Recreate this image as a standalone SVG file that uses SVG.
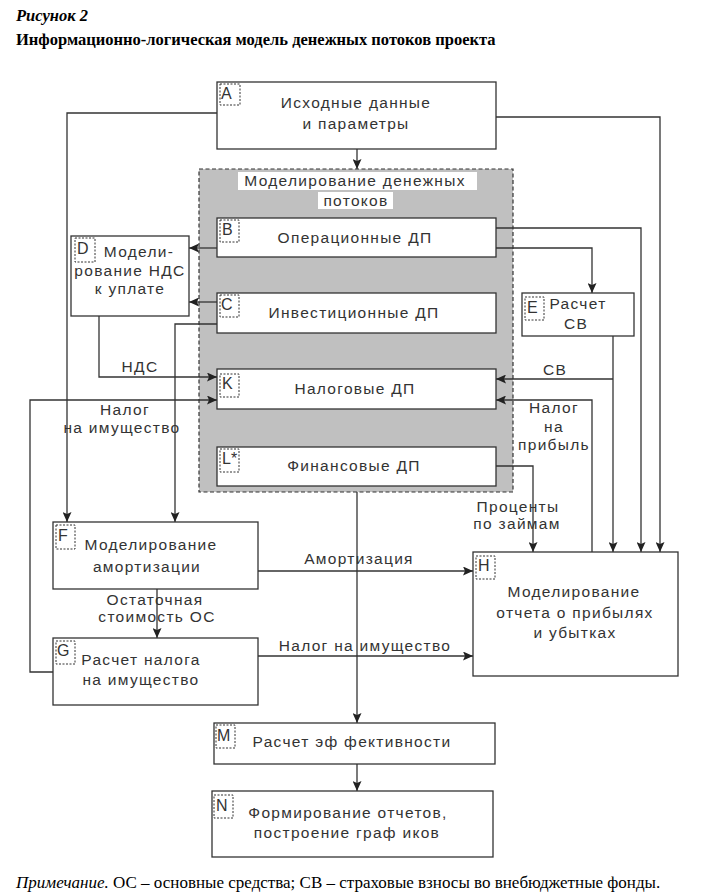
<svg xmlns="http://www.w3.org/2000/svg" width="703" height="896" viewBox="0 0 703 896">
<style>
.bx{fill:#fff;stroke:#333;stroke-width:1.3}
.tag{fill:none;stroke:#333;stroke-width:1;stroke-dasharray:2,1.5}
.tg{font-family:"Liberation Sans",Arial,sans-serif;font-size:16px;fill:#333}
.t{font-family:"Liberation Sans",Arial,sans-serif;font-size:15.5px;fill:#333;letter-spacing:1.3px;text-anchor:middle}
.ln{fill:none;stroke:#333;stroke-width:1.3}
.ar{marker-end:url(#ah)}
.hd{font-family:"Liberation Serif","Times New Roman",serif;font-weight:bold;font-size:16.5px;fill:#000}
.nt{font-family:"Liberation Serif","Times New Roman",serif;font-size:17px;fill:#000}
</style>
<defs>
<marker id="ah" markerUnits="userSpaceOnUse" markerWidth="11" markerHeight="9" refX="10" refY="4.5" orient="auto">
<path d="M0,0 L10,4.5 L0,9 L2,4.5 z" fill="#222"/>
</marker>
</defs>
<rect width="703" height="896" fill="#fff"/>
<text class="hd" x="16" y="21" font-style="italic">Рисунок 2</text>
<text class="hd" x="16" y="45">Информационно-логическая модель денежных потоков проекта</text>

<g id="group-dp">
<rect x="199" y="169" width="314" height="323" fill="#c0c0c0" stroke="#333" stroke-width="1.2" stroke-dasharray="4,2.5"/>
<rect x="238" y="172" width="239" height="18" fill="#fff"/>
<rect x="318" y="192" width="75" height="17" fill="#fff"/>
<text class="t" x="355" y="186">Моделирование денежных</text>
<text class="t" x="356" y="206">потоков</text>
</g>

<g id="connectors">
<path class="ln ar" d="M357,149 V169"/>
<path class="ln ar" d="M217,113 H67 V522"/>
<path class="ln ar" d="M496,117 H660 V552"/>
<path class="ln ar" d="M217,248 H189"/>
<path class="ln ar" d="M217,302 H189"/>
<path class="ln ar" d="M217,324 H175 V522"/>
<path class="ln ar" d="M99,316 V377 H217"/>
<path class="ln ar" d="M53,672 H30 V400 H217"/>
<path class="ln ar" d="M496,228 H641 V552"/>
<path class="ln ar" d="M496,248 H592 V293"/>
<path class="ln ar" d="M613,336 V552"/>
<path class="ln ar" d="M613,379 H496"/>
<path class="ln ar" d="M592,552 V400 H496"/>
<path class="ln ar" d="M496,466 H533 V552"/>
<path class="ln ar" d="M258,571 H473"/>
<path class="ln ar" d="M258,656 H473"/>
<path class="ln ar" d="M157,589 V638"/>
<path class="ln ar" d="M357,492 V723"/>
<path class="ln ar" d="M357,764 V791"/>
<text class="t" x="140" y="372">НДС</text>
<text class="t" x="125" y="415">Налог</text>
<text class="t" x="122" y="433">на имущество</text>
<text class="t" x="555" y="375">СВ</text>
<text class="t" x="554" y="413">Налог</text>
<text class="t" x="554" y="432">на</text>
<text class="t" x="554" y="450">прибыль</text>
<text class="t" x="518" y="512">Проценты</text>
<text class="t" x="517" y="529">по займам</text>
<text class="t" x="359" y="564">Амортизация</text>
<text class="t" x="365" y="651">Налог на имущество</text>
<text class="t" x="155" y="605">Остаточная</text>
<text class="t" x="157" y="622">стоимость ОС</text>
</g>

<g id="node-A">
<rect class="bx" x="217" y="82" width="279" height="67"/>
<rect class="tag" x="220" y="84" width="20" height="21"/>
<text class="tg" x="221" y="99">A</text>
<text class="t" x="356" y="108">Исходные данные</text>
<text class="t" x="356" y="129">и параметры</text>
</g>

<g id="node-B">
<rect class="bx" x="217" y="218" width="279" height="39"/>
<rect class="tag" x="220" y="220" width="19" height="22"/>
<text class="tg" x="222" y="235">B</text>
<text class="t" x="355" y="243">Операционные ДП</text>
</g>

<g id="node-C">
<rect class="bx" x="217" y="293" width="279" height="40"/>
<rect class="tag" x="220" y="295" width="19" height="22"/>
<text class="tg" x="221" y="310">C</text>
<text class="t" x="354" y="318">Инвестиционные ДП</text>
</g>

<g id="node-K">
<rect class="bx" x="217" y="369" width="279" height="40"/>
<rect class="tag" x="220" y="374" width="19" height="23"/>
<text class="tg" x="222" y="389">K</text>
<text class="t" x="355" y="394">Налоговые ДП</text>
</g>

<g id="node-L">
<rect class="bx" x="217" y="447" width="279" height="39"/>
<rect class="tag" x="220" y="449" width="19" height="23"/>
<text class="tg" x="222" y="464">L*</text>
<text class="t" x="354" y="471">Финансовые ДП</text>
</g>

<g id="node-D">
<rect class="bx" x="71" y="236" width="118" height="80"/>
<rect class="tag" x="75" y="238" width="20" height="24"/>
<text class="tg" x="77" y="254">D</text>
<text class="t" x="139" y="257">Модели-</text>
<text class="t" x="130" y="276">рование НДС</text>
<text class="t" x="130" y="294">к уплате</text>
</g>

<g id="node-E">
<rect class="bx" x="522" y="293" width="112" height="43"/>
<rect class="tag" x="525" y="297" width="19" height="23"/>
<text class="tg" x="527" y="313">E</text>
<text class="t" x="578" y="309">Расчет</text>
<text class="t" x="576" y="329">СВ</text>
</g>

<g id="node-F">
<rect class="bx" x="53" y="522" width="205" height="67"/>
<rect class="tag" x="56" y="525" width="19" height="24"/>
<text class="tg" x="58" y="541">F</text>
<text class="t" x="151" y="550">Моделирование</text>
<text class="t" x="147" y="572">амортизации</text>
</g>

<g id="node-G">
<rect class="bx" x="53" y="638" width="205" height="67"/>
<rect class="tag" x="56" y="641" width="19" height="23"/>
<text class="tg" x="57" y="656">G</text>
<text class="t" x="141" y="665">Расчет налога</text>
<text class="t" x="141" y="685">на имущество</text>
</g>

<g id="node-H">
<rect class="bx" x="473" y="552" width="205" height="124"/>
<rect class="tag" x="476" y="556" width="19" height="23"/>
<text class="tg" x="478" y="571">H</text>
<text class="t" x="574" y="597">Моделирование</text>
<text class="t" x="575" y="618">отчета о прибылях</text>
<text class="t" x="575" y="638">и убытках</text>
</g>

<g id="node-M">
<rect class="bx" x="214" y="723" width="281" height="41"/>
<rect class="tag" x="216" y="725" width="19" height="23"/>
<text class="tg" x="217" y="741">M</text>
<text class="t" x="352" y="747">Расчет эф фективности</text>
</g>

<g id="node-N">
<rect class="bx" x="212" y="791" width="281" height="66"/>
<rect class="tag" x="214" y="795" width="19" height="23"/>
<text class="tg" x="216" y="811">N</text>
<text class="t" x="348" y="818">Формирование отчетов,</text>
<text class="t" x="347" y="838">построение граф иков</text>
</g>

<text class="nt" x="16" y="888"><tspan font-style="italic">Примечание.</tspan> ОС – основные средства; СВ – страховые взносы во внебюджетные фонды.</text>
</svg>
